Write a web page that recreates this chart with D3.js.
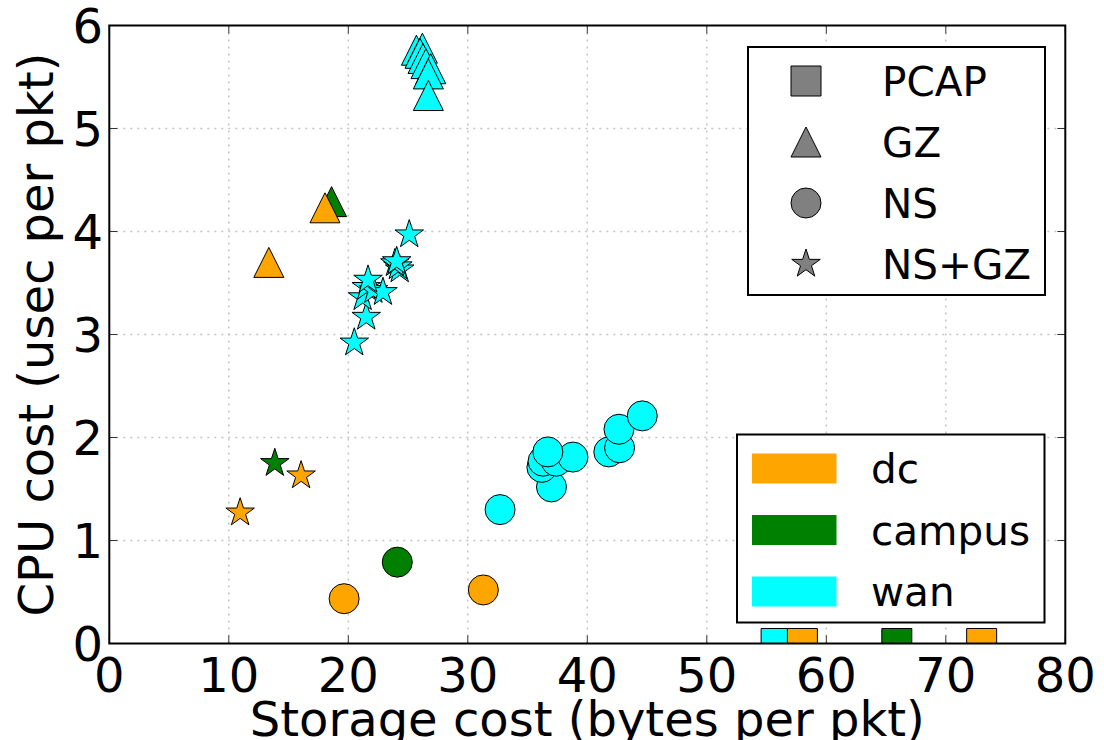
<!DOCTYPE html>
<html>
<head>
<meta charset="utf-8">
<script src="https://cdn.jsdelivr.net/npm/d3@7"></script>
<style>
body { margin: 0; background: #fff; }
text { font-family: "DejaVu Sans", sans-serif; }
</style>
</head>
<body>
<svg width="1104" height="740"></svg>
<script>
// ---- data: [storage cost (bytes per pkt), CPU cost (usec per pkt)] ----
var xTicks = [0, 10, 20, 30, 40, 50, 60, 70, 80];
var yTicks = [0, 1, 2, 3, 4, 5, 6];
var formats = ["PCAP", "GZ", "NS", "NS+GZ"];
var traces = ["dc", "campus", "wan"];

var wanPCAP = [[55.8, 0]];
var wanGZ = [[25.7, 5.76], [26.2, 5.78], [26.0, 5.73], [26.25, 5.68], [26.5, 5.63],
             [26.9, 5.58], [26.7, 5.53], [26.7, 5.32]];
var wanNS = [[32.7, 1.30], [37.0, 1.52], [36.2, 1.71], [36.3, 1.77], [37.4, 1.77],
             [38.8, 1.81], [36.7, 1.86], [41.8, 1.86], [42.7, 1.90], [42.65, 2.08], [44.6, 2.21]];
var wanNSGZ = [[20.5, 2.92], [21.5, 3.17], [21.2, 3.36], [21.5, 3.46], [22.1, 3.43],
               [22.9, 3.41], [21.65, 3.53], [24.3, 3.63], [24.15, 3.66], [23.9, 3.69],
               [24.05, 3.71], [25.1, 3.97]];

var campusPCAP = [[65.9, 0]];
var campusGZ = [[18.6, 4.29]];
var campusNS = [[24.1, 0.79]];
var campusNSGZ = [[13.85, 1.75]];

var dcPCAP = [[58.0, 0], [73.0, 0]];
var dcGZ = [[13.35, 3.70], [18.05, 4.23]];
var dcNS = [[19.65, 0.435], [31.3, 0.52]];
var dcNSGZ = [[10.95, 1.27], [16.05, 1.63]];

var series = [
    ["wan", "PCAP", wanPCAP], ["wan", "GZ", wanGZ], ["wan", "NS", wanNS], ["wan", "NS+GZ", wanNSGZ],
    ["campus", "PCAP", campusPCAP], ["campus", "GZ", campusGZ], ["campus", "NS", campusNS], ["campus", "NS+GZ", campusNSGZ],
    ["dc", "PCAP", dcPCAP], ["dc", "GZ", dcGZ], ["dc", "NS", dcNS], ["dc", "NS+GZ", dcNSGZ]
];

var colors = {dc: "#ffa500", campus: "#008000", wan: "#00ffff"};

var svg = d3.select("svg"),
    pl = 109.3, pr = 1065.3, pt = 25.5, pb = 643.5;

var x = d3.scaleLinear().domain([0, 80]).range([pl, pr]);
var y = d3.scaleLinear().domain([0, 6]).range([pb, pt]);

// marker shapes, matplotlib-like, size = full width in px
function marker(f, s) {
    var r = s / 2;
    if (f === "PCAP") return "M" + -r + "," + -r + "H" + r + "V" + r + "H" + -r + "Z";
    if (f === "GZ") return "M0," + -r + "L" + r + "," + r + "L" + -r + "," + r + "Z";
    if (f === "NS") return "M" + r + ",0A" + r + "," + r + " 0 1,1 " + -r + ",0A" + r + "," + r + " 0 1,1 " + r + ",0Z";
    var p = [];
    for (var i = 0; i < 10; i++) {
        var a = -Math.PI / 2 + i * Math.PI / 5,
            rr = i % 2 ? r * 0.381966 : r;
        p.push([rr * Math.cos(a), rr * Math.sin(a)]);
    }
    return "M" + p.join("L") + "Z";
}

svg.append("defs").append("clipPath")
    .attr("id", "plot")
    .append("rect")
    .attr("x", pl).attr("y", pt)
    .attr("width", pr - pl).attr("height", pb - pt);

// grid
var grid = svg.append("g").attr("class", "grid")
    .attr("stroke", "#c4c4c4").attr("stroke-width", 1.5).attr("stroke-dasharray", "2,5");
grid.selectAll("line.gx")
    .data(xTicks.slice(1, -1))
    .enter().append("line")
    .attr("x1", d => x(d)).attr("x2", d => x(d))
    .attr("y1", pt).attr("y2", pb);
grid.selectAll("line.gy")
    .data(yTicks.slice(1, -1))
    .enter().append("line")
    .attr("x1", pl).attr("x2", pr)
    .attr("y1", d => y(d)).attr("y2", d => y(d));

// inward ticks on all four sides
var ticks = svg.append("g").attr("stroke", "#333").attr("stroke-width", 1);
ticks.selectAll("line.bt").data(xTicks).enter().append("line")
    .attr("x1", d => x(d)).attr("x2", d => x(d)).attr("y1", pb).attr("y2", pb - 8);
ticks.selectAll("line.tt").data(xTicks).enter().append("line")
    .attr("x1", d => x(d)).attr("x2", d => x(d)).attr("y1", pt).attr("y2", pt + 8);
ticks.selectAll("line.lt").data(yTicks).enter().append("line")
    .attr("x1", pl).attr("x2", pl + 8).attr("y1", d => y(d)).attr("y2", d => y(d));
ticks.selectAll("line.rt").data(yTicks).enter().append("line")
    .attr("x1", pr).attr("x2", pr - 8).attr("y1", d => y(d)).attr("y2", d => y(d));

// points
var pts = svg.append("g").attr("clip-path", "url(#plot)");
series.forEach(function (s) {
    pts.append("g").selectAll("path")
        .data(s[2])
        .enter().append("path")
        .attr("d", marker(s[1], 30))
        .attr("transform", d => "translate(" + x(d[0]) + "," + y(d[1]) + ")")
        .attr("fill", colors[s[0]])
        .attr("stroke", "#000")
        .attr("stroke-width", 1);
});

// frame
svg.append("rect")
    .attr("x", pl).attr("y", pt)
    .attr("width", pr - pl).attr("height", pb - pt)
    .attr("fill", "none").attr("stroke", "#000").attr("stroke-width", 2);

// tick labels
svg.append("g").selectAll("text")
    .data(xTicks)
    .enter().append("text")
    .attr("x", d => x(d)).attr("y", 692)
    .attr("text-anchor", "middle")
    .attr("font-size", 48)
    .text(d => d);
svg.append("g").selectAll("text")
    .data(yTicks)
    .enter().append("text")
    .attr("x", 103).attr("y", d => y(d) + 17.5)
    .attr("text-anchor", "end")
    .attr("font-size", 48)
    .text(d => d);

// axis titles
svg.append("text")
    .attr("x", (pl + pr) / 2).attr("y", 736)
    .attr("text-anchor", "middle").attr("font-size", 48)
    .text("Storage cost (bytes per pkt)");
svg.append("text")
    .attr("transform", "translate(53," + (pt + pb) / 2 + ") rotate(-90)")
    .attr("text-anchor", "middle").attr("font-size", 48)
    .text("CPU cost (usec per pkt)");

// legend: formats
var leg1 = svg.append("g");
leg1.append("rect")
    .attr("x", 748).attr("y", 47).attr("width", 297).attr("height", 248)
    .attr("fill", "#fff").attr("stroke", "#000").attr("stroke-width", 2);
leg1.selectAll("g.item")
    .data(formats)
    .enter().append("g")
    .attr("transform", (d, i) => "translate(806," + (81 + i * 61) + ")")
    .each(function (d) {
        var g = d3.select(this);
        g.append("path")
            .attr("d", marker(d, 30))
            .attr("fill", "#808080").attr("stroke", "#000").attr("stroke-width", 1);
        g.append("text")
            .attr("x", 76).attr("y", 14.5)
            .attr("font-size", 40.5)
            .text(d);
    });

// legend: traces
var leg2 = svg.append("g");
leg2.append("rect")
    .attr("x", 737).attr("y", 434.5).attr("width", 307.5).attr("height", 188)
    .attr("fill", "#fff").attr("stroke", "#000").attr("stroke-width", 2);
leg2.selectAll("g.item")
    .data(traces)
    .enter().append("g")
    .attr("transform", (d, i) => "translate(752," + (453.5 + i * 61.5) + ")")
    .each(function (d) {
        var g = d3.select(this);
        g.append("rect")
            .attr("width", 84.5).attr("height", 30)
            .attr("fill", colors[d]);
        g.append("text")
            .attr("x", 119).attr("y", 29.5)
            .attr("font-size", 40.5)
            .text(d);
    });
</script>
</body>
</html>
